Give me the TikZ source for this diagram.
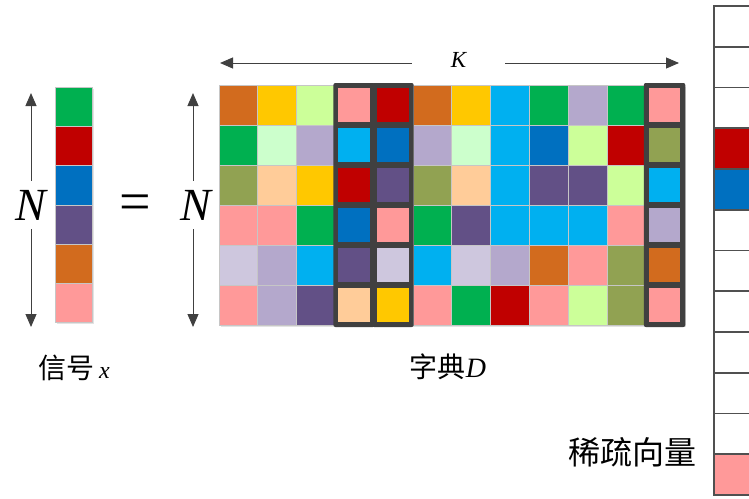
\documentclass[tikz,border=0pt]{standalone}
\usepackage{fontspec}
\setmainfont{Liberation Serif}
\newfontfamily\cjk{Noto Sans CJK SC}
\usetikzlibrary{arrows.meta}
\definecolor{cOr}{RGB}{210,107,30}
\definecolor{cYe}{RGB}{255,200,0}
\definecolor{cLi}{RGB}{204,255,153}
\definecolor{cPk}{RGB}{255,153,153}
\definecolor{cRd}{RGB}{192,0,0}
\definecolor{cGr}{RGB}{0,176,80}
\definecolor{cMi}{RGB}{204,255,204}
\definecolor{cLv}{RGB}{180,168,204}
\definecolor{cSk}{RGB}{0,176,240}
\definecolor{cBl}{RGB}{0,112,192}
\definecolor{cOl}{RGB}{145,162,82}
\definecolor{cPe}{RGB}{255,204,153}
\definecolor{cPu}{RGB}{98,80,134}
\definecolor{cLl}{RGB}{206,199,222}
\definecolor{cDk}{RGB}{64,64,64}
\definecolor{cFr}{RGB}{80,80,80}
\definecolor{cWh}{RGB}{255,255,255}
\tikzset{
  arr/.style={draw=cDk, line width=1pt, -{Triangle[length=13pt,width=11pt]}},
  cellbox/.style={draw=gray!45, line width=0.8pt},
  shadowbox/.style={fill=gray!22},
  bigsym/.style={inner sep=0pt, font=\fontsize{46}{46}\selectfont\itshape},
  label/.style={inner sep=0pt, font=\fontsize{28}{30}\selectfont}
}
\begin{document}
\begin{tikzpicture}[x=1pt,y=-1pt]
\useasboundingbox (0,0) rectangle (749,498);
% dictionary grid
\foreach \rowlist [count=\j from 0] in {
 {Or,Ye,Li,Pk,Rd,Or,Ye,Sk,Gr,Lv,Gr,Pk},
 {Gr,Mi,Lv,Sk,Bl,Lv,Mi,Sk,Bl,Li,Rd,Ol},
 {Ol,Pe,Ye,Rd,Pu,Ol,Pe,Sk,Pu,Pu,Li,Sk},
 {Pk,Pk,Gr,Bl,Pk,Gr,Pu,Sk,Sk,Sk,Pk,Lv},
 {Ll,Lv,Sk,Pu,Ll,Sk,Ll,Lv,Or,Pk,Ol,Or},
 {Pk,Lv,Pu,Pe,Ye,Pk,Gr,Rd,Pk,Li,Ol,Pk}}
{
  \foreach \c [count=\i from 0] in \rowlist {
    \pgfmathsetmacro{\xa}{219+38.8*\i}
    \pgfmathsetmacro{\ya}{85+40*\j}
    \fill[shadowbox] (\xa+1.5,\ya+1.5) rectangle ++(38.8,40);
    \filldraw[cellbox, fill=c\c] (\xa,\ya) rectangle ++(38.8,40);
  }
}
% highlighted columns
\foreach \i/\collist in {3/{Pk,Sk,Rd,Bl,Pu,Pe},4/{Rd,Bl,Pu,Pk,Ll,Ye},11/{Pk,Ol,Sk,Lv,Or,Pk}} {
  \pgfmathsetmacro{\xa}{219+38.8*\i}
  \fill[cDk, rounded corners=2pt] (\xa-2,83) rectangle (\xa+39.5,327);
  \foreach \c [count=\j from 0] in \collist {
    \pgfmathsetmacro{\ya}{85+40*\j}
    \fill[c\c] (\xa+3,\ya+3) rectangle (\xa+34.5,\ya+37);
  }
}
% signal x
\foreach \c [count=\k from 0] in {Gr,Rd,Bl,Pu,Or,Pk} {
  \pgfmathsetmacro{\ya}{87+39.3*\k}
  \fill[shadowbox] (56.5,\ya+1.5) rectangle ++(37,39.3);
  \filldraw[cellbox, fill=c\c] (55,\ya) rectangle ++(37,39.3);
}
% sparse vector
\foreach \c [count=\k from 0] in {Wh,Wh,Wh,Rd,Bl,Wh,Wh,Wh,Wh,Wh,Wh,Pk} {
  \pgfmathsetmacro{\ya}{6+40.75*\k}
  \filldraw[draw=cFr, line width=1.6pt, fill=c\c] (714,\ya) rectangle ++(45,40.75);
}
% labels and arrows
\node[bigsym, minimum height=48pt] (N1) at (31,205) {N};
\node[bigsym, minimum height=48pt] (N2) at (196,205) {N};
\node[inner sep=0pt, font=\fontsize{56}{56}\selectfont] (eq) at (135,208) {=};
\coordinate (n1t) at (31,93);
\coordinate (n1b) at (31,327);
\coordinate (n2t) at (193,93);
\coordinate (n2b) at (193,327);
\draw[arr] (N1.north) -- (n1t);
\draw[arr] (N1.south) -- (n1b);
\draw[arr] (n2t |- N2.north) -- (n2t);
\draw[arr] (n2b |- N2.south) -- (n2b);
\node[inner sep=0pt, minimum width=93pt, font=\fontsize{23}{23}\selectfont\itshape] (K) at (458.5,60) {K};
\coordinate (kl) at (220,63);
\coordinate (kr) at (679,63);
\draw[arr] (kl -| K.west) -- (kl);
\draw[arr] (kr -| K.east) -- (kr);
\node[label] (lx) at (74,368) {{\cjk 信号}\,{\fontsize{24}{24}\selectfont\itshape x}};
\node[label] (lD) at (448,367) {{\cjk 字典}{\fontsize{28}{28}\selectfont\itshape D}};
\node[label, font=\fontsize{32}{34}\selectfont] (ls) at (632,452) {\cjk 稀疏向量};
\end{tikzpicture}
\end{document}
